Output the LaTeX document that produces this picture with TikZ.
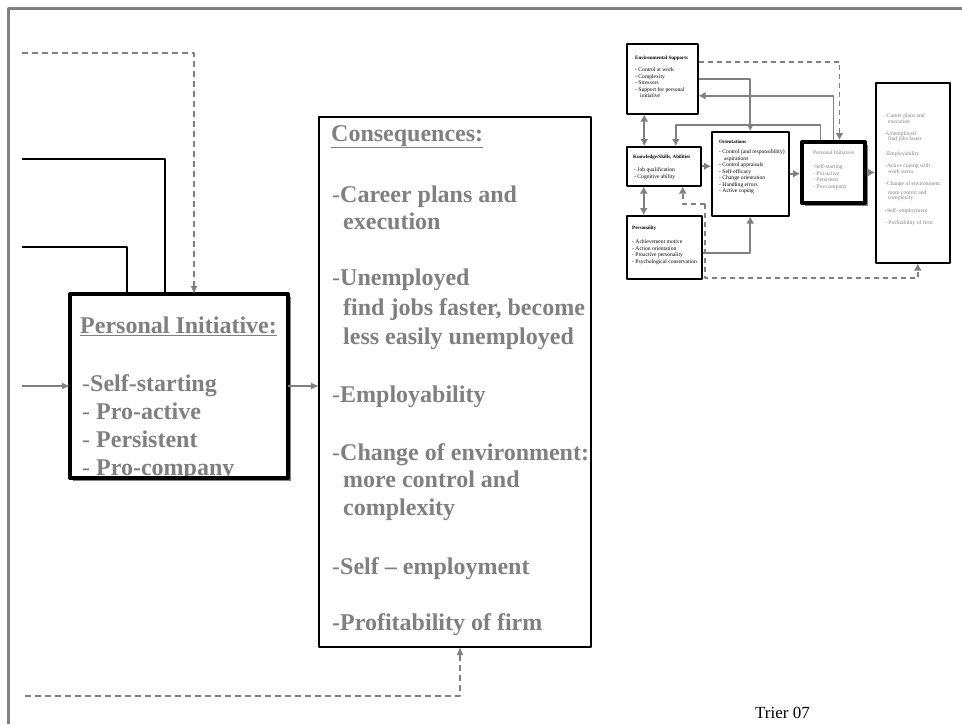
\documentclass[tikz,border=0pt]{standalone}
\usepackage{fontspec}
\setmainfont{Liberation Serif}
\usetikzlibrary{arrows.meta,shadows}
\definecolor{pigray}{RGB}{128,128,128}
\begin{document}
\begin{tikzpicture}[x=1pt,y=-1pt,line join=round,
	frameline/.style={draw=pigray,line width=3pt},
	thinline/.style={line width=1.5pt},
	gline/.style={draw=pigray,line width=1.5pt,-{Latex[length=8pt,width=7pt]}},
	gdash/.style={gline,dash pattern=on 6pt off 4pt},
	pibox/.style={draw,line width=4pt,fill=white,anchor=north west,outer sep=0pt,
		drop shadow={shadow xshift=3pt,shadow yshift=-3pt,fill=pigray,opacity=1}},
	conbox/.style={draw,line width=2pt,fill=white,anchor=north west,outer sep=0pt},
	bigtxt/.style={text=pigray,font=\fontsize{24}{28}\selectfont\bfseries,inner sep=0pt,anchor=base west},
	minibox/.style={draw,line width=1.5pt,fill=white,anchor=north west},
	minipi/.style={draw,line width=4pt,fill=white,anchor=north west,
		drop shadow={shadow xshift=3pt,shadow yshift=-3pt,fill=pigray,opacity=1}},
	iline/.style={draw=pigray,line width=1.6pt},
	iarrow/.style={iline,-{Latex[length=7pt,width=8pt]}},
	iboth/.style={iline,{Latex[length=7pt,width=8pt]}-{Latex[length=7pt,width=8pt]}},
	idash/.style={iarrow,dash pattern=on 5pt off 4pt},
	minihead/.style={font=\fontsize{5}{6}\selectfont\bfseries,inner sep=0pt,anchor=west},
	minigray/.style={font=\fontsize{5.6}{6.5}\selectfont,text=pigray,inner sep=0pt,anchor=west},
	minitxt/.style={font=\fontsize{5.6}{6.5}\selectfont,inner sep=0pt,anchor=north west,align=left}]
	\useasboundingbox (0,0) rectangle (962,724);
	\draw[frameline] (8,724) -- (8,8) -- (962,8);
	% personal initiative and consequences
	\node[pibox,minimum width=218pt,minimum height=184pt] (pi) at (70,294) {};
	\node[conbox,minimum width=272pt,minimum height=530pt] (con) at (319,117) {};
	\foreach \x/\y/\t [count=\i] in {80/333/{\underline{Personal Initiative:}},
		82/391/{{\mdseries-}Self-starting},82/419/{{\mdseries- }Pro-active},
		82/447/{{\mdseries- }Persistent},82/475/{{\mdseries- }Pro-company}}
		\node[bigtxt] (pil\i) at (\x,\y) {\t};
	\draw[line width=4pt] (pi.south west) -- (pi.south east);
	\foreach \x/\y/\t [count=\i] in {331/141/{\underline{Consequences:}},
		332/202/{{\mdseries-}Career plans and},343/229/{execution},
		332/285/{{\mdseries-}Unemployed},343/315/{find jobs faster, become},
		343/344/{less easily unemployed},332/402/{{\mdseries-}Employability},
		332/460/{{\mdseries-}Change of environment:},343/487/{more control and},
		343/515/{complexity},332/574/{{\mdseries-}Self – employment},
		332/630/{-Profitability of firm}}
		\node[bigtxt] (conl\i) at (\x,\y) {\t};
	\coordinate (pa) at (22,53);
	\coordinate (pb) at (22,159);
	\coordinate (pc) at (22,247);
	\coordinate (pd) at (22,386);
	\coordinate (pe) at (25,696);
	\draw[gdash] (pa) -| ([xshift=124pt]pi.north west);
	\draw[thinline] (pb) -| ([xshift=95pt]pi.north west);
	\draw[thinline] (pc) -| ([xshift=57pt]pi.north west);
	\draw[gline] (pd) -- (pi.west);
	\draw[gline] (pi.east) -- (pi.east -| con.west);
	\draw[gdash] (pe) -| ([xshift=141pt]con.south west);
	% small overview
	\node[minibox,minimum width=71pt,minimum height=70pt] (env) at (626,43) {};
	\node[minibox,minimum width=74pt,minimum height=39pt] (know) at (626,146) {};
	\node[minibox,minimum width=75pt,minimum height=63pt] (pers) at (626,215) {};
	\node[minibox,minimum width=77pt,minimum height=84pt] (ori) at (711,131) {};
	\node[minipi,minimum width=63pt,minimum height=61pt] (pis) at (800,140) {};
	\node[minibox,minimum width=74pt,minimum height=180pt] (cs) at (875,82) {};
	\node[minihead] (envt) at (635,58) {Environmental Supports};
	\node[minitxt] (envl) at (635,67.5) {\baselineskip=6.2pt - Control at work\\- Complexity\\- Stressors\\- Support for personal\\\hspace{5pt}initiative};
	\node[minihead] (knowt) at (633,157) {Knowledge/Skills, Abilities};
	\node[minitxt] (knowl) at (634,167.8) {\baselineskip=7.5pt - Job qualification\\- Cognitive ability};
	\node[minihead] (orit) at (719,142) {Orientations};
	\node[minitxt] (oril) at (719,149.8) {\baselineskip=6.6pt - Control (and responsibility)\\\hspace{5pt}aspirations\\- Control appraisals\\- Self-efficacy\\- Change orientation\\- Handling errors\\- Active coping};
	\node[minihead] (perst) at (632,228) {Personality};
	\node[minitxt] (persl) at (632,239.8) {\baselineskip=5.8pt - Achievement motive\\- Action orientation\\- Proactive personality\\- Psychological conservation};
	\node[minigray] (pist) at (813,153) {Personal Initiative};
	\node[minitxt,text=pigray] (pisl) at (813,164.8) {\baselineskip=6.3pt -Self-starting\\- Pro-active\\- Persistent\\- Pro-company};
	\foreach \x/\y/\t [count=\i] in {885/116/{-Career plans and},888/122/{execution},
		885/134/{-Unemployed},888/139/{find jobs faster},885/154/{-Employability},
		885/166/{-Active coping with},888/172/{work stress},885/184/{-Change of environment:},
		888/193/{more control and},888/198/{complexity},885/211/{-Self- employment},
		885/223/{- Profitability of firm}}
		\node[minigray] (csl\i) at (\x,\y) {\t};
	\draw[iarrow] (env.east) -| (ori.north);
	\draw[idash] ([yshift=17pt]env.east) -| ([xshift=6pt]pis.north);
	\draw[iarrow] (pis.north) |- ([yshift=-17pt]env.east);
	\draw[iarrow] ([xshift=-13pt]pis.north) -- ++(0,-15) -| ([xshift=12pt]know.north);
	\draw[iboth] ([xshift=-18pt]env.south) -- ([xshift=-18pt]env.south |- know.north);
	\draw[iboth] ([xshift=-20pt]know.south) -- ([xshift=-20pt]know.south |- pers.north);
	\draw[iarrow] (know.east) -- (know.east -| ori.west);
	\draw[iarrow] ([yshift=-6pt]pers.east) -| (ori.south);
	\draw[iarrow] (ori.east) -- (ori.east -| pis.west);
	\draw[iarrow] (pis.east) -- (pis.east -| cs.west);
	\coordinate (kd) at (705,204);
	\coordinate (kb) at (705,278);
	\draw[idash] (kd) -| ([xshift=19pt]know.south);
	\draw[idash] (kd) -- (kb) -| ([xshift=5pt]cs.south);
	\node[anchor=base west,font=\fontsize{17}{20}\selectfont,inner sep=0pt] (trier) at (755,718) {Trier 07};
\end{tikzpicture}
\end{document}
